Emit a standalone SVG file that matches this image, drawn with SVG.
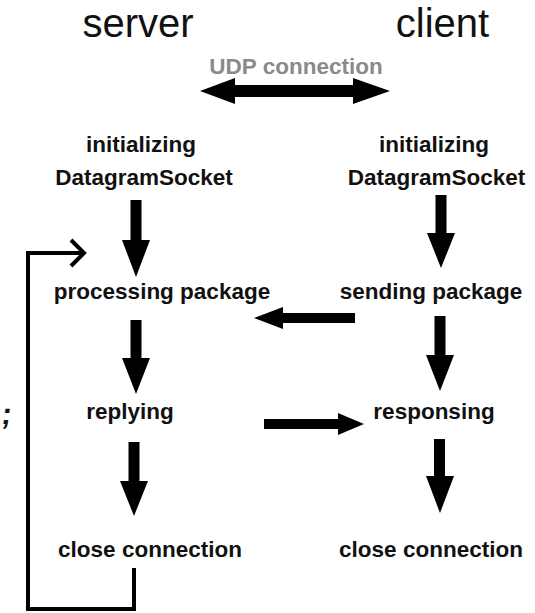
<svg xmlns="http://www.w3.org/2000/svg" width="535" height="613" viewBox="0 0 535 613">
<style>
.title{font-family:"Liberation Sans",Arial,sans-serif;font-size:40px;fill:#111;text-anchor:middle}
.lbl{font-family:"Liberation Sans",Arial,sans-serif;font-size:22.5px;font-weight:bold;fill:#111;text-anchor:middle}
.udp{font-family:"Liberation Sans",Arial,sans-serif;font-size:22.5px;font-weight:bold;fill:#8a8a8a;text-anchor:middle}
.arr{fill:#000}
.line{fill:none;stroke:#000;stroke-width:4}
</style>
<rect width="535" height="613" fill="#fff"/>
<g id="server-title"><text class="title" x="138" y="37">server</text></g>
<g id="client-title"><text class="title" x="442.5" y="37">client</text></g>
<g id="udp"><text class="udp" x="296" y="74">UDP connection</text></g>
<g id="s-init"><text class="lbl" x="141" y="152">initializing</text><text class="lbl" x="144" y="185">DatagramSocket</text></g>
<g id="c-init"><text class="lbl" x="434" y="152">initializing</text><text class="lbl" x="436.5" y="185">DatagramSocket</text></g>
<g id="s-proc"><text class="lbl" x="162" y="299">processing package</text></g>
<g id="c-send"><text class="lbl" x="431" y="299">sending package</text></g>
<g id="s-reply"><text class="lbl" x="130" y="419">replying</text></g>
<g id="c-resp"><text class="lbl" x="434" y="419">responsing</text></g>
<g id="s-close"><text class="lbl" x="150" y="557">close connection</text></g>
<g id="c-close"><text class="lbl" x="431" y="557">close connection</text></g>
<g id="semicolon"><text x="2" y="424" font-family="Liberation Sans,Arial,sans-serif" font-size="30" font-weight="bold" fill="#111" transform="skewX(-8) translate(58,0)">;</text></g>
<g id="connectors">
<path class="arr" d="M200,91 L235,78 V85 H353 V78 L390,91 L353,104 V97 H235 V104 Z"/>
<path class="arr" d="M130.5,200 H141.5 V240 H150 L136,277 L122,240 H130.5 Z"/>
<path class="arr" d="M435.5,195 H446.5 V233 H455 L441,268 L427,233 H435.5 Z"/>
<path class="arr" d="M130.5,320 H141.5 V358 H150 L136,394 L122,358 H130.5 Z"/>
<path class="arr" d="M434.5,316 H445.5 V355 H454 L440,391 L426,355 H434.5 Z"/>
<path class="arr" d="M128.5,442 H139.5 V481 H148 L134,516 L120,481 H128.5 Z"/>
<path class="arr" d="M434,439 H445 V476 H454 L440,513 L426,476 H434 Z"/>
<path class="arr" d="M355,313 V323 H283 V329 L254,318 L283,307 V313 Z"/>
<path class="arr" d="M264,419 H338 V413 L364,424 L338,435 V429 H264 Z"/>
<polyline class="line" points="85,253 28,253 28,609 134,609 134,568"/>
<polyline class="line" stroke-width="3.5" points="71,240 84,253 71,266"/>
</g>
</svg>
